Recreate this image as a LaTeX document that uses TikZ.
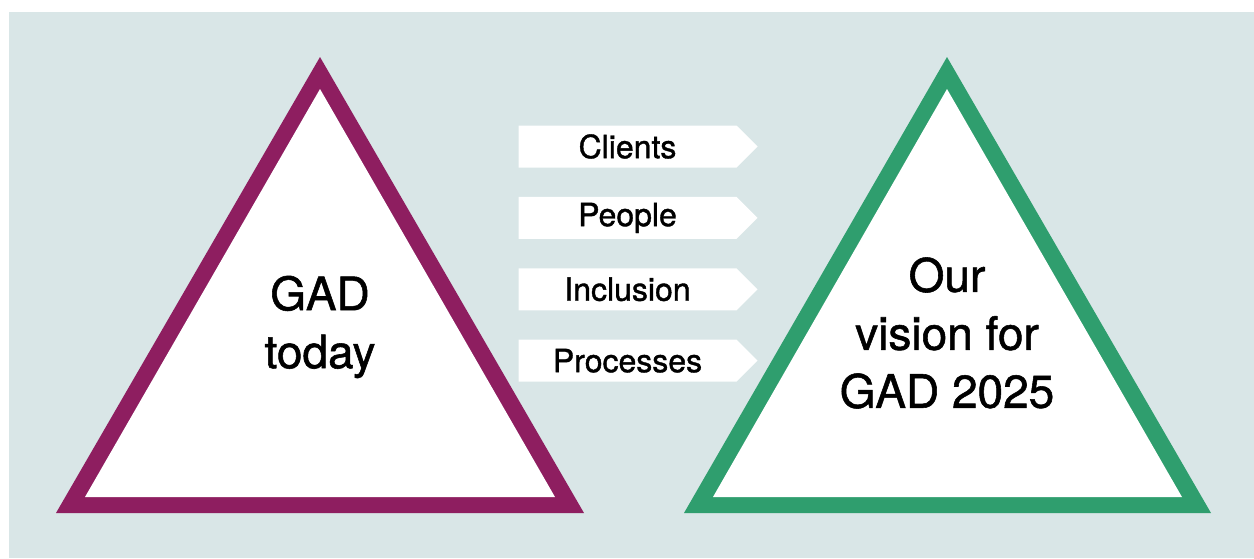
\documentclass[tikz,border=0pt]{standalone}
\usepackage{fontspec}
\setmainfont{TeX Gyre Heros}
\newfontfamily\gadfont[FakeBold=1.2]{TeX Gyre Heros}
\usepackage{tikz}
\usetikzlibrary{shapes,chains,positioning}
\definecolor{panel}{RGB}{217,230,231}
\definecolor{gadpurple}{RGB}{142,30,96}
\definecolor{gadgreen}{RGB}{47,158,110}
\tikzstyle{tag}=[signal, signal to=east, signal pointer angle=90, fill=white, inner sep=0pt,
        minimum width=239pt, minimum height=42pt, text=black, font=\gadfont\fontsize{32}{36}\selectfont]
\tikzstyle{bigtext}=[align=center, text=black, inner sep=0pt, font=\gadfont\fontsize{46}{58}\selectfont]

\begin{document}
\begin{tikzpicture}[x=1pt, y=-1pt, start chain=going below, node distance=29pt]
\useasboundingbox (0,0) rectangle (1254,558);
\fill[panel] (9,12) rectangle (1254,558);
% left triangle
\fill[gadpurple] (56,513) -- (320,57) -- (584,513) -- cycle;
\fill[white] (85,497) -- (320,89) -- (555,497) -- cycle;
% right triangle
\fill[gadgreen] (684,513) -- (947,57) -- (1211,513) -- cycle;
\fill[white] (713,497) -- (947,89) -- (1182,497) -- cycle;
\node [bigtext] (today) at (320,327) {GAD\\today};
\node [bigtext] (vision) at (947,333) {Our\\vision for\\GAD 2025};
% arrows
\node [tag, on chain] (clients) at (627.5,146.5) {Clients};
\node [tag, on chain] (people) {People};
\node [tag, on chain] (inclusion) {Inclusion};
\node [tag, on chain] (processes) {Processes};
\end{tikzpicture}
\end{document}
